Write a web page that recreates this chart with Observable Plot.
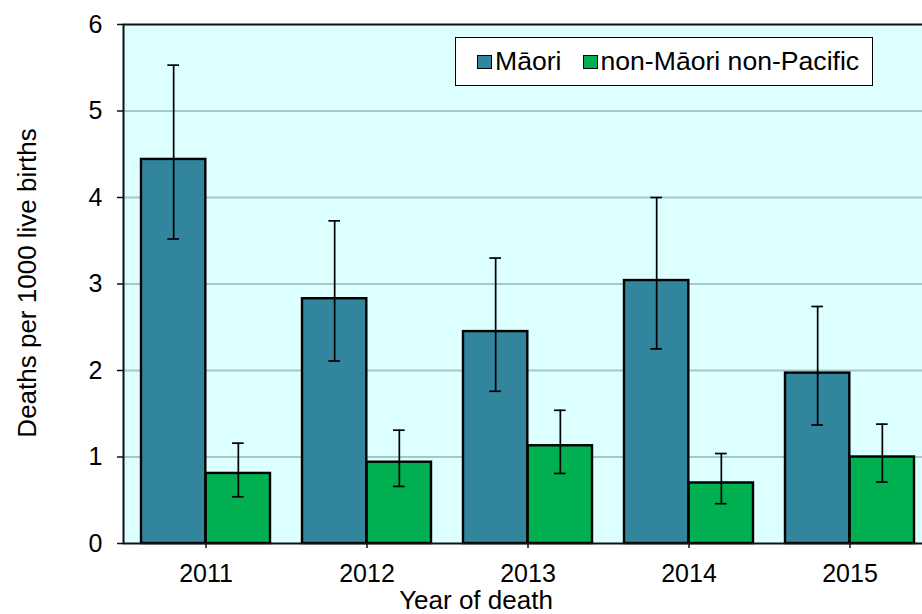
<!DOCTYPE html>
<html><head><meta charset="utf-8">
<script src="https://cdn.jsdelivr.net/npm/d3@7"></script>
<script src="https://cdn.jsdelivr.net/npm/@observablehq/plot@0.6"></script>
<style>
html,body{margin:0;padding:0;overflow:hidden;background:#fff}
#wrap{position:relative;width:922px;height:614px;font-family:"Liberation Sans",Arial,sans-serif;color:#000}
#wrap svg{overflow:hidden;display:block}
.legend{position:absolute;left:455px;top:37px;width:418px;height:49px;background:#fff;border:1.5px solid #000;display:flex;align-items:center;font-size:26.6px;line-height:1;padding-left:21px;box-sizing:border-box;white-space:nowrap}
.sw{display:inline-block;width:15px;height:14px;border:1.5px solid #000;box-sizing:border-box;margin-right:3px}
.item{display:flex;align-items:center;margin-right:21px;white-space:nowrap}
.ytitle{position:absolute;left:27px;top:283px;transform:translate(-50%,-50%) rotate(-90deg);font-size:26px;white-space:nowrap;line-height:1}
.xtitle{position:absolute;left:476px;top:587px;transform:translateX(-50%);font-size:26px;white-space:nowrap;line-height:1}
</style>
</head><body>
<div id="wrap"></div>
<script>
const years = ["2011", "2012", "2013", "2014", "2015"];
const maori = [4.44, 2.83, 2.45, 3.04, 1.97];
const maoriLow = [3.52, 2.11, 1.76, 2.25, 1.37];
const maoriHigh = [5.53, 3.73, 3.30, 4.00, 2.74];
const nonMaori = [0.81, 0.94, 1.13, 0.70, 1.00];
const nonMaoriLow = [0.54, 0.66, 0.81, 0.46, 0.71];
const nonMaoriHigh = [1.16, 1.31, 1.54, 1.04, 1.38];
const series = ["Māori", "non-Māori non-Pacific"];
const colors = ["#31859c", "#00b050"];
const yTicks = [0, 1, 2, 3, 4, 5, 6];

const rowsM = years.map((y, i) => ({year: y, v: maori[i], lo: maoriLow[i], hi: maoriHigh[i]}));
const rowsN = years.map((y, i) => ({year: y, v: nonMaori[i], lo: nonMaoriLow[i], hi: nonMaoriHigh[i]}));

const x0 = 123.5, x1 = 932;
const step = (x1 - x0) / years.length;
const bw = step * 0.8;
const half = bw / 2;
const capW = 12;
const capIn = half / 2 - capW / 2;
const capOut = bw - (half / 2 + capW / 2);
const axisColor = "#111";

const chart = Plot.plot({
  width: 922,
  height: 614,
  marginLeft: 123,
  marginTop: 24,
  marginBottom: 71,
  marginRight: -4,
  style: {fontFamily: '"Liberation Sans", Arial, sans-serif', fontSize: "25px", color: "#000", background: "transparent", overflow: "hidden"},
  x: {domain: years, range: [x0, x1], paddingInner: 0.2, paddingOuter: 0.1, label: null},
  y: {domain: [0, 6], label: null},
  marks: [
    Plot.frame({fill: "#dcffff", stroke: null}),
    Plot.ruleY(yTicks.slice(1, -1), {stroke: "#a8c6c8", strokeWidth: 2}),
    Plot.barY(rowsM, {x: "year", y: "v", fill: colors[0], stroke: "#000", strokeWidth: 2.4, insetRight: half}),
    Plot.barY(rowsN, {x: "year", y: "v", fill: colors[1], stroke: "#000", strokeWidth: 2.4, insetLeft: half}),
    Plot.ruleX(rowsM, {x: "year", y1: "lo", y2: "hi", dx: -half / 2, stroke: "#000", strokeWidth: 1.7}),
    Plot.ruleX(rowsN, {x: "year", y1: "lo", y2: "hi", dx: half / 2, stroke: "#000", strokeWidth: 1.7}),
    Plot.tickY(rowsM, {x: "year", y: "lo", insetLeft: capIn, insetRight: capOut, stroke: "#000", strokeWidth: 1.7}),
    Plot.tickY(rowsM, {x: "year", y: "hi", insetLeft: capIn, insetRight: capOut, stroke: "#000", strokeWidth: 1.7}),
    Plot.tickY(rowsN, {x: "year", y: "lo", insetLeft: capOut, insetRight: capIn, stroke: "#000", strokeWidth: 1.7}),
    Plot.tickY(rowsN, {x: "year", y: "hi", insetLeft: capOut, insetRight: capIn, stroke: "#000", strokeWidth: 1.7}),
    Plot.frame({stroke: axisColor, strokeWidth: 2}),
    Plot.axisY({ticks: yTicks, tickSize: 6, tickPadding: 15, tickFormat: d => String(d), stroke: axisColor, strokeWidth: 1.5, label: null}),
    Plot.axisX({tickSize: 5, tickPadding: 16, stroke: axisColor, strokeWidth: 1.5, label: null})
  ]
});

const wrap = document.getElementById("wrap");
wrap.appendChild(chart);

const legend = document.createElement("div");
legend.className = "legend";
series.forEach((s, i) => {
  const it = document.createElement("div");
  it.className = "item";
  const sw = document.createElement("span");
  sw.className = "sw";
  sw.style.background = colors[i];
  const t = document.createElement("span");
  t.textContent = s;
  it.appendChild(sw); it.appendChild(t);
  legend.appendChild(it);
});
wrap.appendChild(legend);

const yt = document.createElement("div");
yt.className = "ytitle";
yt.textContent = "Deaths per 1000 live births";
wrap.appendChild(yt);
const xt = document.createElement("div");
xt.className = "xtitle";
xt.textContent = "Year of death";
wrap.appendChild(xt);
</script>
</body></html>
